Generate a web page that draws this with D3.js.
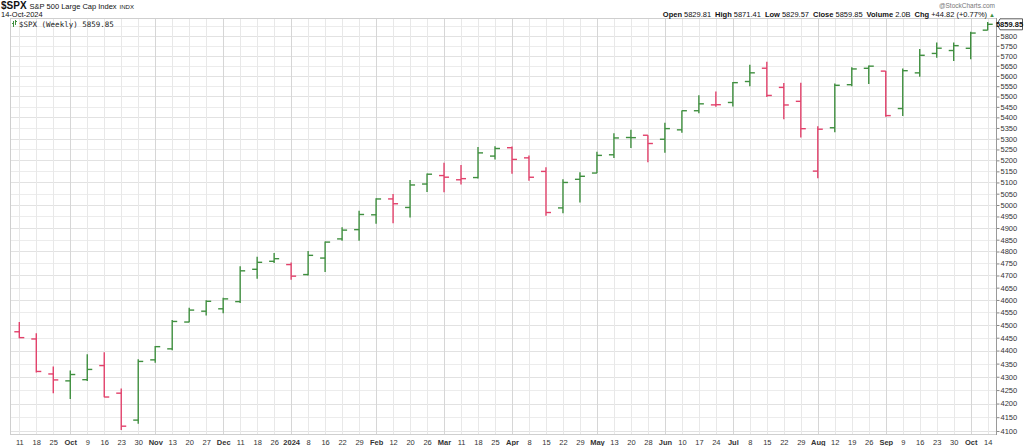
<!DOCTYPE html>
<html><head><meta charset="utf-8">
<script src="https://cdn.jsdelivr.net/npm/d3@7/dist/d3.min.js"></script>
<style>
html,body{margin:0;padding:0;background:#fff;}
svg{display:block;font-family:"Liberation Sans",Arial,sans-serif;}
</style></head><body>
<svg id="c" width="1024" height="446"></svg>
<script>
// ---- data ----
const weeks = ["2023-09-11","2023-09-18","2023-09-25","2023-10-02","2023-10-09","2023-10-16","2023-10-23","2023-10-30",
"2023-11-06","2023-11-13","2023-11-20","2023-11-27","2023-12-04","2023-12-11","2023-12-18","2023-12-26",
"2024-01-02","2024-01-08","2024-01-16","2024-01-22","2024-01-29","2024-02-05","2024-02-12","2024-02-20","2024-02-26",
"2024-03-04","2024-03-11","2024-03-18","2024-03-25","2024-04-01","2024-04-08","2024-04-15","2024-04-22","2024-04-29",
"2024-05-06","2024-05-13","2024-05-20","2024-05-28","2024-06-03","2024-06-10","2024-06-17","2024-06-24",
"2024-07-01","2024-07-08","2024-07-15","2024-07-22","2024-07-29","2024-08-05","2024-08-12","2024-08-19","2024-08-26",
"2024-09-03","2024-09-09","2024-09-16","2024-09-23","2024-09-30","2024-10-07","2024-10-14"];
const xTickLabels = ["11","18","25","Oct","9","16","23","30","Nov","13","20","27","Dec","11","18","26",
"2024","8","16","22","29","Feb","12","20","26","Mar","11","18","25","Apr","8","15","22","29",
"May","13","20","28","Jun","10","17","24","Jul","8","15","22","29","Aug","12","19","26",
"Sep","9","16","23","30","Oct","14"];
const monthLabels = ["Oct","Nov","Dec","2024","Feb","Mar","Apr","May","Jun","Jul","Aug","Sep"];
const opens  = [4473.3,4445.1,4310.6,4284.5,4289.0,4342.4,4238.5,4139.4,4364.3,4406.7,4511.7,4554.9,4564.4,4593.4,4725.6,4758.9,
4745.2,4703.7,4772.4,4853.4,4893.0,4957.2,5026.8,4989.3,5093.0,5131.0,5112.0,5122.0,5219.5,5258.0,5211.4,5149.7,4987.3,5114.1,
5142.4,5225.5,5305.4,5315.9,5297.2,5341.2,5431.6,5459.6,5471.1,5572.8,5638.2,5544.0,5476.6,5151.1,5351.0,5557.2,5637.8,
5623.9,5442.1,5615.2,5711.9,5726.5,5737.8,5829.81];
const highs  = [4512.0,4467.4,4338.5,4324.1,4385.5,4393.6,4255.8,4366.2,4418.0,4520.1,4568.4,4598.5,4609.2,4738.6,4778.0,4793.3,
4754.3,4802.4,4842.1,4903.7,4975.3,5030.1,5048.4,5111.1,5140.3,5189.3,5179.1,5261.1,5264.9,5264.0,5222.7,5168.4,5114.6,5146.0,
5239.7,5325.5,5341.9,5315.9,5375.1,5432.4,5505.5,5523.6,5570.3,5655.6,5669.7,5566.0,5566.2,5358.0,5563.0,5643.2,5651.6,
5623.9,5636.3,5733.6,5767.4,5767.0,5822.1,5871.41];
const lows   = [4448.4,4316.5,4238.6,4216.5,4283.8,4223.0,4103.8,4126.3,4353.3,4401.0,4510.4,4537.2,4546.5,4587.6,4687.0,4752.0,
4682.1,4699.8,4714.8,4845.2,4845.2,4918.1,4920.3,4946.0,5057.3,5056.8,5091.0,5117.5,5203.4,5138.7,5107.9,4953.6,4963.5,5011.1,
5142.4,5211.1,5256.9,5191.7,5234.3,5327.0,5420.0,5451.1,5451.7,5550.0,5497.0,5391.0,5305.0,5119.3,5330.0,5550.0,5561.0,
5402.6,5407.0,5596.0,5690.0,5674.0,5683.0,5829.57];
const closes = [4450.3,4320.1,4288.1,4308.5,4327.8,4224.2,4117.4,4358.3,4415.2,4514.0,4559.3,4594.6,4604.4,4719.2,4754.6,4769.8,
4697.2,4783.8,4839.8,4891.0,4958.6,5026.6,5005.6,5088.8,5137.1,5123.7,5117.1,5234.2,5254.4,5204.3,5123.4,4967.2,5100.0,5127.8,
5222.7,5303.3,5304.7,5277.5,5347.0,5431.6,5464.6,5460.5,5567.2,5615.4,5505.0,5459.1,5346.6,5344.2,5554.3,5634.6,5648.4,
5408.4,5626.0,5702.6,5738.2,5751.1,5815.0,5859.85];
const priorClose = 4457.5;
const yTickValues = [4100,4150,4200,4250,4300,4350,4400,4450,4500,4550,4600,4650,4700,4750,4800,4850,4900,4950,
5000,5050,5100,5150,5200,5250,5300,5350,5400,5450,5500,5550,5600,5650,5700,5750,5800];
const gridValues = yTickValues.concat([5850]);
const lastLabel = "5859.85";

// ---- layout ----
const svg = d3.select("#c");
const plot = {left:10, right:996, top:18, bottom:434};
const x = d3.scalePoint().domain(weeks).range([19.3, 987.7]);
const y = d3.scaleLog().domain([4100, 5800]).range([431, 36]);
const GREEN = "#3f8f3f", RED = "#e2416b";

// frame background
svg.append("rect").attr("x",plot.left+0.5).attr("y",plot.top+0.5)
  .attr("width",plot.right-plot.left).attr("height",plot.bottom-plot.top)
  .attr("fill","#fff").attr("stroke","#cfcfcf");

// horizontal grid
svg.append("g").selectAll("line").data(gridValues).join("line")
  .attr("x1",plot.left+1).attr("x2",plot.right)
  .attr("y1",d=>Math.round(y(d))+0.5).attr("y2",d=>Math.round(y(d))+0.5)
  .attr("stroke",(d)=> d%100===0 ? "#e2e2e2" : "#ececec").attr("stroke-width",1);

// vertical grid
svg.append("g").selectAll("line").data(weeks).join("line")
  .attr("x1",d=>Math.round(x(d))+0.5).attr("x2",d=>Math.round(x(d))+0.5)
  .attr("y1",plot.top+1).attr("y2",plot.bottom)
  .attr("stroke",(d,i)=> monthLabels.includes(xTickLabels[i]) ? "#d6d6d6" : "#e8e8e8")
  .attr("stroke-width",1);

// right axis
const yAxis = d3.axisRight(y).tickValues(yTickValues).tickSize(3).tickFormat(d3.format("d"));
const ga = svg.append("g").attr("transform",`translate(${plot.right+0.5},0)`).call(yAxis);
ga.select(".domain").remove();
ga.append("line").attr("x1",0).attr("x2",0).attr("y1",plot.top).attr("y2",plot.bottom+1).attr("stroke","#9a9a9a");
ga.selectAll(".tick line").attr("stroke","#888");
ga.selectAll(".tick text").attr("x",4).attr("font-size","7.5px").attr("fill","#333")
  .attr("font-family","Liberation Sans, Arial, sans-serif");

// bottom axis
const xAxis = d3.axisBottom(x).tickSize(0).tickFormat((d,i)=>xTickLabels[i]);
const gx = svg.append("g").attr("transform",`translate(0,${plot.bottom})`).call(xAxis);
gx.select(".domain").remove();
gx.selectAll(".tick text").attr("y",6).attr("dy","0.71em").attr("font-size","7.5px").attr("fill","#333")
  .attr("font-family","Liberation Sans, Arial, sans-serif")
  .attr("font-weight",(d,i)=> monthLabels.includes(xTickLabels[i]) ? "bold" : "normal");

// OHLC bars
const bars = weeks.map((w,i)=>({w, o:opens[i], h:highs[i], l:lows[i], c:closes[i],
  up: closes[i] >= (i===0 ? priorClose : closes[i-1])}));
const gb = svg.append("g");
const bg = gb.selectAll("g").data(bars).join("g").attr("stroke",d=>d.up?GREEN:RED).attr("stroke-width",1.4);
bg.append("line").attr("x1",d=>x(d.w)).attr("x2",d=>x(d.w)).attr("y1",d=>y(d.h)).attr("y2",d=>y(d.l));
bg.append("line").attr("x1",d=>x(d.w)-5).attr("x2",d=>x(d.w)).attr("y1",d=>y(d.o)).attr("y2",d=>y(d.o));
bg.append("line").attr("x1",d=>x(d.w)).attr("x2",d=>x(d.w)+5).attr("y1",d=>y(d.c)).attr("y2",d=>y(d.c));

// last price box
const ly = y(closes[closes.length-1]);
svg.append("path")
  .attr("d",`M${plot.right+1},${ly} L${plot.right+4},${ly-5.5} H1022.5 V${ly+5.5} H${plot.right+4} Z`)
  .attr("fill","#fff").attr("stroke","#333").attr("stroke-width",0.8);
svg.append("text").attr("x",1009.5).attr("y",ly+3).attr("text-anchor","middle")
  .attr("font-size","7.5px").attr("font-weight","bold").attr("fill","#111").text(lastLabel);

// header left
const h1 = svg.append("text").attr("x",1).attr("y",9).attr("fill","#111");
h1.append("tspan").attr("font-size","10px").attr("font-weight","bold").text("$SPX");
h1.append("tspan").attr("font-size","7.5px").attr("dx",3).text("S&P 500 Large Cap Index");
h1.append("tspan").attr("font-size","6px").attr("dx",3).text("INDX");
svg.append("text").attr("x",1).attr("y",17).attr("font-size","7.5px").attr("fill","#111").text("14-Oct-2024");

// legend inside plot
const lg = svg.append("g").attr("stroke",GREEN).attr("stroke-width",1);
lg.append("line").attr("x1",13.5).attr("x2",13.5).attr("y1",21).attr("y2",27);
lg.append("line").attr("x1",12).attr("x2",13.5).attr("y1",23.5).attr("y2",23.5);
lg.append("line").attr("x1",15.5).attr("x2",15.5).attr("y1",20).attr("y2",25);
lg.append("line").attr("x1",15.5).attr("x2",17).attr("y1",21.5).attr("y2",21.5);
svg.append("text").attr("x",19).attr("y",26.5).attr("font-family","DejaVu Sans Mono, monospace")
  .attr("font-size","7.5px").attr("fill","#222").text("$SPX (Weekly) 5859.85");

// header right
svg.append("text").attr("x",995).attr("y",8).attr("text-anchor","end").attr("font-size","6.5px")
  .attr("fill","#777").text("@StockCharts.com");
const hr = svg.append("text").attr("x",995).attr("y",17).attr("text-anchor","end").attr("font-size","7.5px").attr("fill","#111");
const parts = [["Open","5829.81"],["High","5871.41"],["Low","5829.57"],["Close","5859.85"],["Volume","2.0B"],["Chg","+44.82 (+0.77%)"]];
parts.forEach((p,i)=>{
  hr.append("tspan").attr("font-weight","bold").attr("dx", i===0?0:4).text(p[0]);
  hr.append("tspan").attr("dx",2).text(p[1]);
});
hr.append("tspan").attr("dx",2).attr("fill",GREEN).attr("font-size","6px").text("▲");
</script>
</body></html>
